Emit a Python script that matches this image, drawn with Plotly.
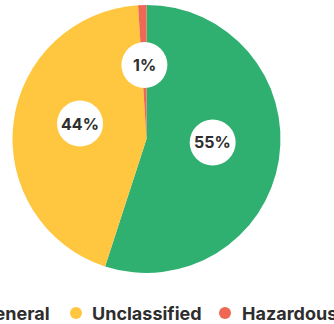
import math
import plotly.graph_objects as go

# Waste categories and their share of the total (%)
categories = ["General", "Unclassified", "Hazardous"]
shares = [55, 44, 1]
colors = ["#2FB071", "#FFC640", "#EE6853"]

W, H = 334, 324
CX, CY, R = 146.5, 139.0, 134.0  # pie centre / radius in pixels
FONT = "Inter"
TEXT_COLOR = "#2E2E2E"

fig = go.Figure(
    go.Pie(
        labels=categories,
        values=shares,
        marker=dict(colors=colors, line=dict(width=0)),
        sort=False,
        direction="clockwise",
        rotation=0,
        textinfo="none",
        hoverinfo="label+percent",
        showlegend=False,
        domain=dict(
            x=[(CX - R) / W, (CX + R) / W],
            y=[1 - (CY + R) / H, 1 - (CY - R) / H],
        ),
    )
)

shapes = []
annotations = []

# Percentage badges: white discs on the bisector of each slice
total = sum(shares)
start = 0.0
for name, v in zip(categories, shares):
    sweep = 360.0 * v / total
    mid = math.radians(start + sweep / 2)
    start += sweep
    px = CX + 0.5 * R * math.sin(mid)
    py = CY - 0.5 * R * math.cos(mid) - 7
    xp, yp = px / W, 1 - py / H
    shapes.append(dict(
        type="circle", xref="paper", yref="paper",
        xsizemode="pixel", ysizemode="pixel",
        xanchor=xp, yanchor=yp, x0=-23, x1=23, y0=-23, y1=23,
        fillcolor="white", line=dict(width=0), layer="above",
    ))
    annotations.append(dict(
        x=xp, y=yp, xref="paper", yref="paper", showarrow=False,
        text=f"{round(100 * v / total)}%",
        font=dict(family=FONT, size=16, color=TEXT_COLOR, weight=700),
        xanchor="center", yanchor="middle",
    ))

# Horizontal legend along the bottom edge
legend_y = 313
legend_text_x = [52, 90, 240]     # General is right-aligned, others left-aligned
legend_dot_x = [-30, 76, 225]
for i, (name, col) in enumerate(zip(categories, colors)):
    shapes.append(dict(
        type="circle", xref="paper", yref="paper",
        xsizemode="pixel", ysizemode="pixel",
        xanchor=legend_dot_x[i] / W, yanchor=1 - legend_y / H,
        x0=-6, x1=6, y0=-6, y1=6,
        fillcolor=col, line=dict(width=0),
    ))
    annotations.append(dict(
        x=legend_text_x[i] / W, y=1 - legend_y / H,
        xref="paper", yref="paper", showarrow=False, text=name,
        font=dict(family=FONT, size=18, color=TEXT_COLOR, weight=700),
        xanchor="right" if i == 0 else "left", yanchor="middle",
    ))

fig.update_layout(
    width=W, height=H,
    margin=dict(l=0, r=0, t=0, b=0),
    paper_bgcolor="white", plot_bgcolor="white",
    shapes=shapes, annotations=annotations,
)

fig.write_html("out.html")
